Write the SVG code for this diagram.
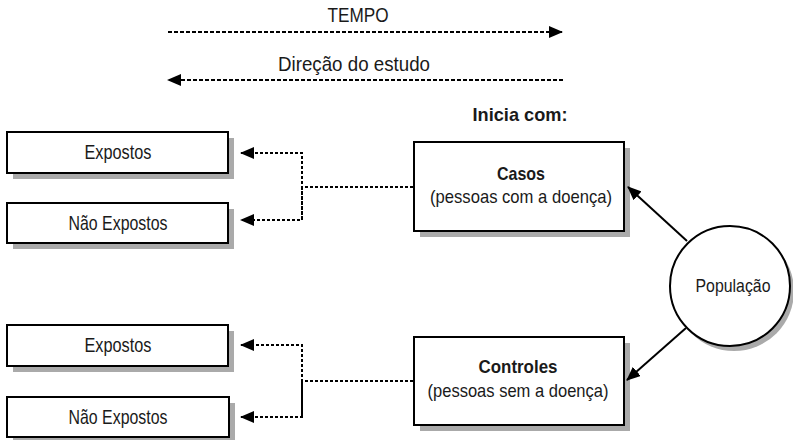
<svg xmlns="http://www.w3.org/2000/svg" width="793" height="440" viewBox="0 0 793 440">
<style>
text{font-family:"Liberation Sans",Arial,sans-serif;font-size:21px;fill:#1a1a1a;text-anchor:middle}
.b{font-weight:bold}
.m{font-size:19px}
.box{fill:#fff;stroke:#000;stroke-width:2}
.sh{fill:#aaa}
.dash{fill:none;stroke:#000;stroke-width:2;stroke-dasharray:4 2}
.dot{fill:none;stroke:#000;stroke-width:2;stroke-dasharray:3 2}
.solid{fill:none;stroke:#000;stroke-width:2}
</style>
<defs>
<marker id="ah" markerUnits="userSpaceOnUse" markerWidth="14" markerHeight="12" refX="13" refY="6" orient="auto">
<path d="M0,0 L14,6 L0,12 Z" fill="#000"/>
</marker>
</defs>
<rect width="793" height="440" fill="#fff"/>
<g id="time">
<text x="358" y="22" textLength="61" lengthAdjust="spacingAndGlyphs">TEMPO</text>
<line class="dash" x1="168" y1="32" x2="562" y2="32" marker-end="url(#ah)"/>
</g>
<g id="direction">
<text x="354" y="71" textLength="152" lengthAdjust="spacingAndGlyphs">Direção do estudo</text>
<line class="dash" x1="563" y1="80" x2="168" y2="80" marker-end="url(#ah)"/>
</g>
<text id="inicia" class="b m" x="520" y="121" textLength="95" lengthAdjust="spacingAndGlyphs">Inicia com:</text>
<g id="exp1">
<rect class="sh" x="13" y="138" width="221" height="41"/>
<rect class="box" x="7" y="132" width="221" height="41"/>
<text x="118" y="159" textLength="67" lengthAdjust="spacingAndGlyphs">Expostos</text>
</g>
<g id="naoexp1">
<rect class="sh" x="13" y="209" width="221" height="40"/>
<rect class="box" x="7" y="203" width="221" height="40"/>
<text x="118" y="230" textLength="99" lengthAdjust="spacingAndGlyphs">Não Expostos</text>
</g>
<g id="exp2">
<rect class="sh" x="13" y="331" width="221" height="41"/>
<rect class="box" x="7" y="325" width="221" height="41"/>
<text x="118" y="352" textLength="67" lengthAdjust="spacingAndGlyphs">Expostos</text>
</g>
<g id="naoexp2">
<rect class="sh" x="13" y="403" width="222" height="40"/>
<rect class="box" x="7" y="397" width="222" height="40"/>
<text x="118" y="424" textLength="99" lengthAdjust="spacingAndGlyphs">Não Expostos</text>
</g>
<g id="casos">
<rect class="sh" x="420" y="148" width="210" height="89"/>
<rect class="box" x="414" y="142" width="210" height="89"/>
<text class="b m" x="521" y="180" textLength="48" lengthAdjust="spacingAndGlyphs">Casos</text>
<text class="m" x="521" y="203" textLength="182" lengthAdjust="spacingAndGlyphs">(pessoas com a doença)</text>
</g>
<g id="controles">
<rect class="sh" x="420" y="343" width="210" height="88"/>
<rect class="box" x="414" y="337" width="210" height="88"/>
<text class="b m" x="518" y="373" textLength="79" lengthAdjust="spacingAndGlyphs">Controles</text>
<text class="m" x="518" y="397" textLength="181" lengthAdjust="spacingAndGlyphs">(pessoas sem a doença)</text>
</g>
<g id="populacao">
<circle cx="734" cy="291" r="60" fill="#aaa"/>
<circle cx="730" cy="286" r="60" fill="#fff" stroke="#000" stroke-width="2"/>
<text class="m" x="733" y="292" textLength="75" lengthAdjust="spacingAndGlyphs">População</text>
</g>
<g id="connectors">
<polyline class="dot" points="413,187 302,187"/>
<polyline class="dot" points="302,219 302,153 241,153" marker-end="url(#ah)"/>
<polyline class="dot" points="302,187 302,220 241,220" marker-end="url(#ah)"/>
<polyline class="dot" points="413,381 302,381"/>
<polyline class="dot" points="302,417 302,345 241,345" marker-end="url(#ah)"/>
<polyline class="dot" points="302,381 302,417 241,417" marker-end="url(#ah)"/>
<line class="solid" x1="687" y1="241" x2="628" y2="187" marker-end="url(#ah)"/>
<line class="solid" x1="686" y1="328" x2="627" y2="380" marker-end="url(#ah)"/>
</g>
</svg>
